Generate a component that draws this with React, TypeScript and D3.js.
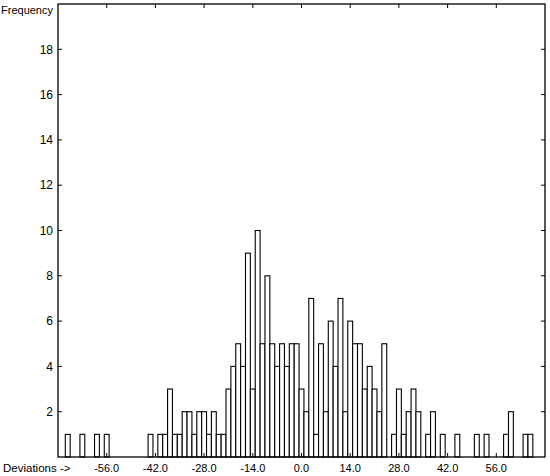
import React, { useEffect, useRef } from "react";
import * as d3 from "d3";

// histogram of deviations, bins 1.4 wide, centred on multiples of 1.4
const binWidth = 1.4;
const firstBin = -49; // index of the first bin centre (k * binWidth)
const counts = [
  0, 1, 0, 0, 1, 0, 0, 1, 0, 1, // -49 .. -40
  0, 0, 0, 0, 0, 0, 0, 0, 1, 0, // -39 .. -30
  1, 1, 3, 1, 1, 2, 2, 1, 2, 2, // -29 .. -20
  1, 2, 1, 1, 3, 4, 5, 4, 9, 3, // -19 .. -10
  10, 5, 8, 5, 4, 5, 4, 5, 5, 3, // -9 .. 0
  2, 7, 1, 5, 2, 6, 4, 7, 2, 6, // 1 .. 10
  5, 5, 3, 4, 3, 2, 5, 0, 1, 3, // 11 .. 20
  1, 2, 3, 2, 0, 1, 2, 0, 1, 0, // 21 .. 30
  0, 1, 0, 0, 0, 1, 0, 1, 0, 0, // 31 .. 40
  0, 1, 2, 0, 0, 1, 1, 0, 0, // 41 .. 49
];
const xTicks = [-56, -42, -28, -14, 0, 14, 28, 42, 56];
const yTicks = [2, 4, 6, 8, 10, 12, 14, 16, 18];
const xLabel = "Deviations ->";
const yLabel = "Frequency";

const W = 550;
const H = 476;
const m = { left: 58, right: 5, top: 4, bottom: 19 };

export default function App() {
  const ref = useRef<SVGSVGElement>(null);

  useEffect(() => {
    const svg = d3.select(ref.current);
    svg.selectAll("*").remove();

    const x = d3.scaleLinear().domain([-70, 70]).range([m.left, W - m.right]);
    const y = d3.scaleLinear().domain([0, 20]).range([H - m.bottom, m.top]);
    const font = "Liberation Sans, Arial, sans-serif";

    const bins = counts.map((c, i) => ({ k: firstBin + i, c })).filter((d) => d.c > 0);

    svg.append("g")
      .selectAll("rect")
      .data(bins)
      .join("rect")
      .attr("x", (d) => x(d.k * binWidth - binWidth / 2))
      .attr("width", (d) => x(d.k * binWidth + binWidth / 2) - x(d.k * binWidth - binWidth / 2))
      .attr("y", (d) => y(d.c))
      .attr("height", (d) => y(0) - y(d.c))
      .attr("fill", "#fff")
      .attr("stroke", "#000")
      .attr("stroke-width", 1.1);

    // frame
    svg.append("rect")
      .attr("x", m.left)
      .attr("y", m.top)
      .attr("width", W - m.right - m.left)
      .attr("height", H - m.bottom - m.top)
      .attr("fill", "none")
      .attr("stroke", "#000")
      .attr("stroke-width", 1.3);

    const tk = 4;
    const ticks = svg.append("g").attr("stroke", "#000").attr("stroke-width", 1);
    xTicks.forEach((t) => {
      ticks.append("line").attr("x1", x(t)).attr("x2", x(t)).attr("y1", y(0)).attr("y2", y(0) - tk);
      ticks.append("line").attr("x1", x(t)).attr("x2", x(t)).attr("y1", m.top).attr("y2", m.top + tk);
    });
    yTicks.forEach((t) => {
      ticks.append("line").attr("x1", m.left).attr("x2", m.left + tk).attr("y1", y(t)).attr("y2", y(t));
      ticks.append("line").attr("x1", W - m.right).attr("x2", W - m.right - tk).attr("y1", y(t)).attr("y2", y(t));
    });

    svg.append("g")
      .selectAll("text")
      .data(yTicks)
      .join("text")
      .attr("x", m.left - 5)
      .attr("y", (d) => y(d))
      .attr("dy", "0.35em")
      .attr("text-anchor", "end")
      .attr("font-family", font)
      .attr("font-size", 12)
      .text((d) => d);

    svg.append("g")
      .selectAll("text")
      .data(xTicks)
      .join("text")
      .attr("x", (d) => x(d))
      .attr("y", 472)
      .attr("text-anchor", "middle")
      .attr("font-family", font)
      .attr("font-size", 11)
      .text((d) => d.toFixed(1));

    svg.append("text")
      .attr("x", 3)
      .attr("y", 472)
      .attr("font-family", font)
      .attr("font-size", 11.5)
      .text(xLabel);

    svg.append("text")
      .attr("x", m.left - 5)
      .attr("y", 14)
      .attr("text-anchor", "end")
      .attr("font-family", font)
      .attr("font-size", 11)
      .text(yLabel);
  }, []);

  return (
    <svg
      ref={ref}
      width={W}
      height={H}
      style={{ position: "absolute", left: 0, top: 0, background: "#fff" }}
    />
  );
}
